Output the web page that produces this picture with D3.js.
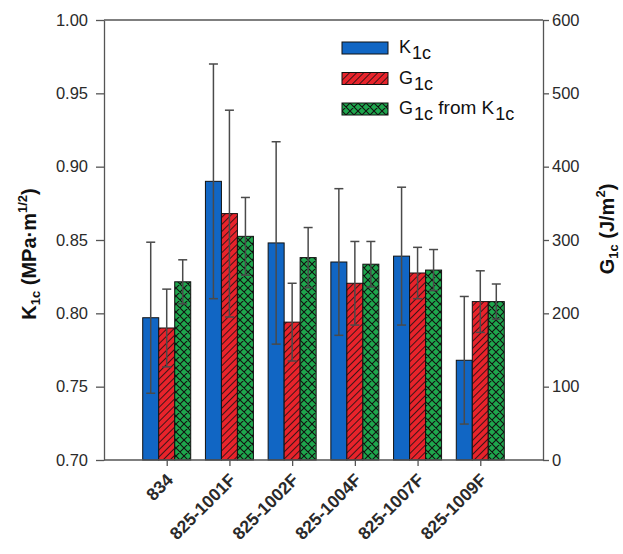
<!DOCTYPE html>
<html>
<head>
<meta charset="utf-8">
<script src="https://cdn.jsdelivr.net/npm/d3@7"></script>
<style>
  html, body { margin: 0; padding: 0; background: #fff; }
  svg { display: block; font-family: "Liberation Sans", Arial, sans-serif; }
</style>
</head>
<body>
<svg id="chart" width="623" height="554"></svg>
<script>
// Specimens
const categories = ["834", "825-1001F", "825-1002F", "825-1004F", "825-1007F", "825-1009F"];

// Fracture toughness K1c (MPa·m^1/2), mean and standard deviation
const k1c    = [0.797, 0.890, 0.848, 0.835, 0.839, 0.768];
const k1cErr = [0.0515, 0.080, 0.069, 0.050, 0.047, 0.0435];

// Measured G1c (J/m²)
const g1c    = [180, 336, 188, 241, 255, 216];
const g1cErr = [53, 141, 53, 57, 35, 42];

// G1c computed from K1c (J/m²)
const g1cK    = [243, 305, 276, 267, 259, 216];
const g1cKErr = [30, 53, 41, 31, 28, 24];

// Axis ticks
const kTicks = [0.70, 0.75, 0.80, 0.85, 0.90, 0.95, 1.00];
const gTicks = [0, 100, 200, 300, 400, 500, 600];

const seriesNames = ["K1c", "G1c", "G1cK"];
const colors = { K1c: "#1166c4", G1c: "#e8232b", G1cK: "#1ea64d" };

const svg = d3.select("#chart");
const m = { left: 104, right: 543, top: 20, bottom: 460 };

const kScale = d3.scaleLinear().domain([0.70, 1.00]).range([m.bottom, m.top]);
const gScale = d3.scaleLinear().domain([0, 600]).range([m.bottom, m.top]);
const x = d3.scalePoint().domain(categories).range([m.left, m.right]).padding(1);
const sub = d3.scaleBand().domain(seriesNames).range([-24, 24]).padding(0);

// Fill patterns
const defs = svg.append("defs");
const hatch = defs.append("pattern").attr("id", "hatch")
  .attr("patternUnits", "userSpaceOnUse").attr("width", 5).attr("height", 5)
  .attr("patternTransform", "rotate(45)");
hatch.append("rect").attr("width", 5).attr("height", 5).attr("fill", colors.G1c);
hatch.append("line").attr("x1", 0).attr("y1", 0).attr("x2", 0).attr("y2", 5)
  .attr("stroke", "#111").attr("stroke-width", 1.6);

const cross = defs.append("pattern").attr("id", "cross")
  .attr("patternUnits", "userSpaceOnUse").attr("width", 8).attr("height", 8)
  .attr("x", 0).attr("y", 0);
cross.append("rect").attr("width", 8).attr("height", 8).attr("fill", colors.G1cK);
cross.append("path").attr("d", "M0,0 L8,8 M8,0 L0,8 M-1,7 L1,9 M7,-1 L9,1 M-1,1 L1,-1 M7,9 L9,7")
  .attr("stroke", "#111").attr("stroke-width", 1.1).attr("fill", "none");

const fills = { K1c: colors.K1c, G1c: "url(#hatch)", G1cK: "url(#cross)" };

// Build rows for bars
const rows = [];
categories.forEach((c, i) => {
  rows.push({ cat: c, s: "K1c", v: k1c[i], e: k1cErr[i], scale: kScale });
  rows.push({ cat: c, s: "G1c", v: g1c[i], e: g1cErr[i], scale: gScale });
  rows.push({ cat: c, s: "G1cK", v: g1cK[i], e: g1cKErr[i], scale: gScale });
});

const plot = svg.append("g");
plot.selectAll("rect.bar").data(rows).join("rect").attr("class", "bar")
  .attr("x", d => x(d.cat) + sub(d.s))
  .attr("width", sub.bandwidth())
  .attr("y", d => d.scale(d.v))
  .attr("height", d => m.bottom - d.scale(d.v))
  .attr("fill", d => fills[d.s])
  .attr("stroke", "#111").attr("stroke-width", 1);

// Error bars
const eb = plot.selectAll("g.err").data(rows).join("g").attr("class", "err")
  .attr("stroke", "#4a4a4a").attr("stroke-width", 1.5);
const cx = d => x(d.cat) + sub(d.s) + sub.bandwidth() / 2;
eb.append("line").attr("x1", cx).attr("x2", cx)
  .attr("y1", d => d.scale(d.v + d.e)).attr("y2", d => d.scale(d.v - d.e));
eb.append("line").attr("x1", d => cx(d) - 4.5).attr("x2", d => cx(d) + 4.5)
  .attr("y1", d => d.scale(d.v + d.e)).attr("y2", d => d.scale(d.v + d.e));
eb.append("line").attr("x1", d => cx(d) - 4.5).attr("x2", d => cx(d) + 4.5)
  .attr("y1", d => d.scale(d.v - d.e)).attr("y2", d => d.scale(d.v - d.e));

// Axes
const axisColor = "#555";
const styleAxis = g => {
  g.select(".domain").attr("stroke", axisColor).attr("stroke-width", 1.3);
  g.selectAll(".tick line").attr("stroke", axisColor).attr("stroke-width", 1.3);
  g.selectAll(".tick text").attr("fill", "#2a2a2a").style("font-size", "16.5px")
    .style("font-family", "'Liberation Sans', Arial, sans-serif");
};

svg.append("g").attr("transform", `translate(${m.left},0)`)
  .call(d3.axisLeft(kScale).tickValues(kTicks).tickFormat(d3.format(".2f")).tickSize(8).tickSizeOuter(0).tickPadding(8))
  .call(styleAxis);

svg.append("g").attr("transform", `translate(${m.right},0)`)
  .call(d3.axisRight(gScale).tickValues(gTicks).tickFormat(d3.format("d")).tickSize(6).tickSizeOuter(0).tickPadding(3))
  .call(styleAxis);

const xAxis = svg.append("g").attr("transform", `translate(0,${m.bottom})`)
  .call(d3.axisBottom(x).tickSize(6).tickSizeOuter(0))
  .call(styleAxis);
xAxis.select(".domain").attr("d", `M${m.left},0H${m.right}`);
xAxis.selectAll(".tick text")
  .style("font-size", "17.5px")
  .attr("text-anchor", "end")
  .attr("font-weight", "bold")
  .attr("dx", 0).attr("dy", 0).attr("y", 0)
  .attr("transform", "translate(7,21) rotate(-45)");

// Top frame line
svg.append("line").attr("x1", m.left).attr("x2", m.right).attr("y1", m.top).attr("y2", m.top)
  .attr("stroke", axisColor).attr("stroke-width", 1.3);

// Axis titles
const leftTitle = svg.append("text")
  .attr("transform", `translate(36,254) rotate(-90)`)
  .attr("text-anchor", "middle").attr("font-weight", "bold").attr("font-size", 20).attr("fill", "#111");
leftTitle.append("tspan").text("K");
leftTitle.append("tspan").attr("font-size", 13).attr("dy", 4).text("1c");
leftTitle.append("tspan").attr("dy", -4).text(" (MPa·m");
leftTitle.append("tspan").attr("font-size", 13).attr("dy", -9).text("1/2");
leftTitle.append("tspan").attr("dy", 9).text(")");

const rightTitle = svg.append("text")
  .attr("transform", `translate(614,229) rotate(-90)`)
  .attr("text-anchor", "middle").attr("font-weight", "bold").attr("font-size", 20).attr("fill", "#111");
rightTitle.append("tspan").text("G");
rightTitle.append("tspan").attr("font-size", 13).attr("dy", 4).text("1c");
rightTitle.append("tspan").attr("dy", -4).text(" (J/m");
rightTitle.append("tspan").attr("font-size", 13).attr("dy", -9).text("2");
rightTitle.append("tspan").attr("dy", 9).text(")");

// Legend
const legendItems = [
  { s: "K1c", main: "K", sub: "1c", rest: "" },
  { s: "G1c", main: "G", sub: "1c", rest: "" },
  { s: "G1cK", main: "G", sub: "1c", rest: " from K", sub2: "1c" }
];
const legend = svg.append("g").attr("transform", "translate(342,42)");
const li = legend.selectAll("g").data(legendItems).join("g")
  .attr("transform", (d, i) => `translate(0,${i * 30.5})`);
li.append("rect").attr("width", 46).attr("height", 12)
  .attr("fill", d => fills[d.s]).attr("stroke", "#111").attr("stroke-width", 1);
const lt = li.append("text").attr("x", 57).attr("y", 11).attr("font-size", 18).attr("fill", "#111");
lt.append("tspan").text(d => d.main);
lt.append("tspan").attr("font-size", 18).attr("dx", 1).attr("dy", 6).text(d => d.sub);
lt.filter(d => d.rest).append("tspan").attr("font-size", 19).attr("dy", -6).text(d => d.rest);
lt.filter(d => d.sub2).append("tspan").attr("font-size", 18).attr("dx", 1).attr("dy", 6).text(d => d.sub2);
</script>
</body>
</html>
